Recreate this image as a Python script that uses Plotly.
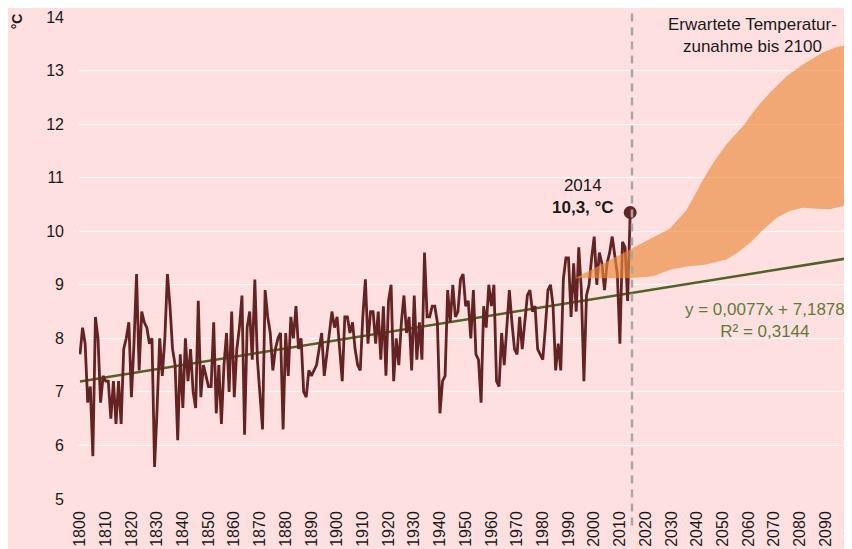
import plotly.graph_objects as go
import numpy as np

# ---- data ----
start_year = 1800
temps = [
    7.7, 8.2, 7.9, 6.8, 7.1, 5.8, 8.4, 8.0, 6.8, 7.3,
    7.2, 7.2, 6.5, 7.2, 6.4, 7.2, 6.4, 7.8, 8.0, 8.3,
    6.9, 7.9, 9.2, 7.4, 8.5, 8.3, 8.2, 7.9, 8.0, 5.6,
    6.7, 8.0, 7.3, 8.0, 9.2, 8.6, 7.8, 7.5, 6.1, 7.7,
    6.7, 8.0, 7.2, 7.8, 7.0, 6.7, 8.7, 6.9, 7.5, 7.3,
    7.1, 7.1, 8.3, 6.6, 7.5, 6.4, 7.5, 8.1, 7.0, 8.5,
    6.9, 7.8, 8.2, 8.8, 6.2, 8.2, 8.5, 7.6, 9.1, 7.6,
    6.9, 6.3, 8.9, 8.4, 8.1, 7.4, 7.8, 8.0, 8.1, 6.3,
    8.1, 7.3, 8.4, 8.0, 8.6, 7.8, 8.0, 7.0, 6.9, 7.4,
    7.3, 7.4, 7.5, 7.8, 8.1, 7.3, 7.7, 8.0, 8.5, 8.2,
    8.4, 7.8, 7.2, 8.4, 8.4, 8.1, 8.3, 7.8, 7.5, 7.4,
    8.4, 9.1, 7.9, 8.5, 8.5, 7.9, 8.5, 7.6, 8.6, 7.3,
    8.7, 9.0, 7.2, 8.0, 7.5, 8.3, 8.8, 8.1, 8.4, 7.4,
    8.8, 7.6, 8.3, 7.6, 9.6, 8.4, 8.4, 8.6, 8.6, 8.3,
    6.6, 7.2, 7.3, 8.9, 8.3, 9.0, 8.4, 8.5, 9.1, 9.2,
    8.6, 8.7, 8.0, 8.9, 7.7, 7.6, 6.8, 8.6, 8.2, 9.0,
    8.6, 9.0, 7.2, 7.1, 8.1, 7.5, 8.3, 8.9, 8.3, 7.8,
    7.7, 8.4, 7.8, 8.3, 8.8, 8.9, 8.5, 8.6, 7.8, 7.7,
    7.6, 8.2, 8.9, 9.0, 8.6, 7.4, 7.9, 7.4, 9.1, 9.5,
    9.5, 8.4, 9.4, 8.5, 9.7, 8.9, 7.2, 8.8, 9.0, 9.5,
    9.9, 9.0, 9.6, 9.4, 8.9, 9.4, 9.6, 9.9, 9.5, 9.2,
    7.9, 9.8, 9.7, 8.7, 10.35,
]
years = list(range(start_year, start_year + len(temps)))

last_year = 2014
last_label = "10,3, °C"

# linear trend (x = running index, 1800 -> 1)
trend_slope = 0.0077
trend_intercept = 7.1878
trend_years = [1800, 2100]

# projected band (Erwartete Temperaturzunahme)
band_upper_years = [1992.5, 2014, 2029.5, 2036, 2042.4, 2046.3, 2051.5, 2058,
                    2063.2, 2068.4, 2074.9, 2081.3, 2089.1, 2094.3, 2098.2, 2100.3]
band_upper = [9.12, 9.66, 10.05, 10.4, 10.97, 11.28, 11.63, 11.97,
              12.31, 12.59, 12.9, 13.12, 13.34, 13.44, 13.47, 13.44]
band_lower_years = [1992.5, 2014, 2023, 2029.5, 2036, 2042.4, 2046.3, 2051.5, 2055.4,
                    2060.6, 2065.8, 2071, 2076.2, 2081.3, 2086.5, 2091.7, 2096.9, 2100.3]
band_lower = [9.12, 9.12, 9.16, 9.28, 9.34, 9.37, 9.41, 9.47, 9.59,
              9.78, 10.03, 10.25, 10.38, 10.44, 10.42, 10.41, 10.47, 10.69]

forecast_start = 2014.7

# ---- styles ----
BG = "#FFE0E0"
LINE = "#642323"
TREND = "#4F6228"
TREND_TXT = "#627A37"
TXT = "#1a1a1a"
FONT = "Liberation Sans, Arial, sans-serif"

# page has an 8px body margin -> figure slightly smaller than the window
W, H = 844, 541
L, R, T, B = 71, 0, 9, 50
ph = H - T - B

fig = go.Figure()

tx = np.array(trend_years, dtype=float)
ty = trend_slope * (tx - start_year + 1) + trend_intercept
fig.add_trace(go.Scatter(x=tx, y=ty, mode="lines",
                         line=dict(color=TREND, width=2.5), hoverinfo="skip"))

fig.add_trace(go.Scatter(x=years, y=temps, mode="lines",
                         line=dict(color=LINE, width=2.8)))

bx = band_upper_years + band_lower_years[::-1]
by = band_upper + band_lower[::-1]
fig.add_trace(go.Scatter(x=bx, y=by, mode="lines", fill="toself",
                         fillcolor="rgba(236,138,60,0.66)",
                         line=dict(width=0, color="rgba(0,0,0,0)"),
                         hoverinfo="skip"))

fig.add_trace(go.Scatter(x=[years[-1]], y=[temps[-1]], mode="markers",
                         marker=dict(color=LINE, size=13)))

fig.add_shape(type="line", xref="x", yref="paper",
              x0=forecast_start, x1=forecast_start, y0=-0.055, y1=1.04,
              line=dict(color="#A6A6A6", width=2.5, dash="8px,6px"),
              layer="above")

fig.add_annotation(x=2061.5, y=1 - (27.5 - T) / ph, xref="x", yref="paper",
                   text="Erwartete Temperatur-<br>zunahme bis 2100",
                   showarrow=False, font=dict(size=17, color=TXT, family=FONT),
                   align="center", xanchor="center", yanchor="middle")
fig.add_annotation(x=1995.6, y=10.64, xref="x", yref="y",
                   text=f"{last_year}<br><b>{last_label}</b>",
                   showarrow=False, font=dict(size=17, color=TXT, family=FONT),
                   align="center", xanchor="center", yanchor="middle")
fig.add_annotation(x=2066.3, y=8.34, xref="x", yref="y",
                   text="y = 0,0077x + 7,1878<br>R² = 0,3144",
                   showarrow=False, font=dict(size=17, color=TREND_TXT, family=FONT),
                   align="center", xanchor="center", yanchor="middle")
fig.add_annotation(x=(16.5 - 79) / 773, y=0.99, xref="paper", yref="paper",
                   text="<b>°C</b>", textangle=-90, showarrow=False,
                   font=dict(size=14, color=TXT, family=FONT), borderpad=0,
                   xanchor="center", yanchor="middle")

fig.update_layout(
    width=W, height=H,
    margin=dict(l=L, r=R, t=T, b=B),
    paper_bgcolor=BG, plot_bgcolor=BG,
    showlegend=False,
    font=dict(family=FONT, color=TXT),
    xaxis=dict(range=[1799.61, 2100.27], tick0=1800, dtick=10,
               tickangle=-90, showgrid=False, zeroline=False,
               showline=False, ticks="", automargin=False,
               tickfont=dict(size=16, color=TXT),
               ticklabelstandoff=8, ticklabeloverflow="allow"),
    yaxis=dict(range=[5, 14], dtick=1, showgrid=True, gridcolor="#FFFFFF",
               gridwidth=1.3, zeroline=False, showline=False, ticks="",
               automargin=False, tickfont=dict(size=16, color=TXT),
               ticklabelstandoff=14),
)

fig.write_html("out.html")
